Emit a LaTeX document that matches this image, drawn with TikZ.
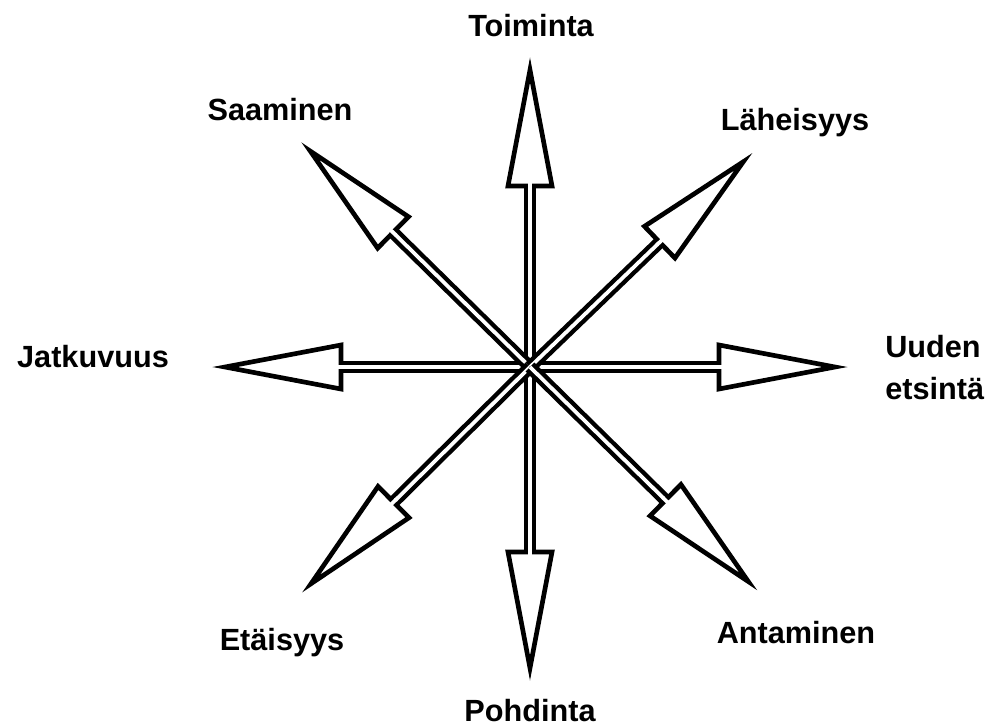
\documentclass[tikz,border=0pt]{standalone}
\usepackage{fontspec}
\setmainfont{Liberation Sans}
\tikzset{
  lbl/.style={inner sep=0pt, anchor=base, font=\fontsize{23}{27}\selectfont\bfseries},
  shaft/.style={draw=black, line width=3.3pt, double=white, double distance=2.8pt, line cap=butt},
  headshape/.style={draw=black, fill=white, line width=3.5pt, line join=miter},
  gapcut/.style={draw=white, line width=2.8pt, line cap=butt}
}
\newcommand{\bigarrow}[2]{%
  \begin{scope}[shift={(c)}, rotate=#1]
    \path[shaft] (0,0) -- (#2-128,0);
  \end{scope}}
\newcommand{\bighead}[2]{%
  \begin{scope}[shift={(c)}, rotate=#1]
    \path[headshape] (#2-128,22) -- (#2-12,0) -- (#2-128,-22) -- cycle;
    \path[gapcut] (#2-132,0) -- (#2-124,0);
  \end{scope}}
\begin{document}
\begin{tikzpicture}[x=0.75pt,y=-0.75pt]
\useasboundingbox (0,0) rectangle (989,726);
\coordinate (c) at (530,367);
% shafts
\bigarrow{90}{309}
\bigarrow{-90}{313}
\bigarrow{180}{317}
\bigarrow{0}{317}
\bigarrow{135.5}{320}
\bigarrow{43.9}{308}
\bigarrow{-135.3}{320}
\bigarrow{-44.5}{318}
% heads
\bighead{90}{309}
\bighead{-90}{313}
\bighead{180}{317}
\bighead{0}{317}
\bighead{135.5}{320}
\bighead{43.9}{308}
\bighead{-135.3}{320}
\bighead{-44.5}{318}
% labels
\node[lbl] (toiminta) at (531,36) {Toiminta};
\node[lbl] (saaminen) at (280,120) {Saaminen};
\node[lbl] (laheisyys) at (795,130) {Läheisyys};
\node[lbl] (jatkuvuus) at (93,367) {Jatkuvuus};
\node[lbl, anchor=base west] (uuden) at (885,357) {Uuden};
\node[lbl, anchor=base west] (etsinta) at (885,399) {etsintä};
\node[lbl] (etaisyys) at (282,650) {Etäisyys};
\node[lbl] (pohdinta) at (530,721) {Pohdinta};
\node[lbl] (antaminen) at (796,643) {Antaminen};
\end{tikzpicture}
\end{document}
